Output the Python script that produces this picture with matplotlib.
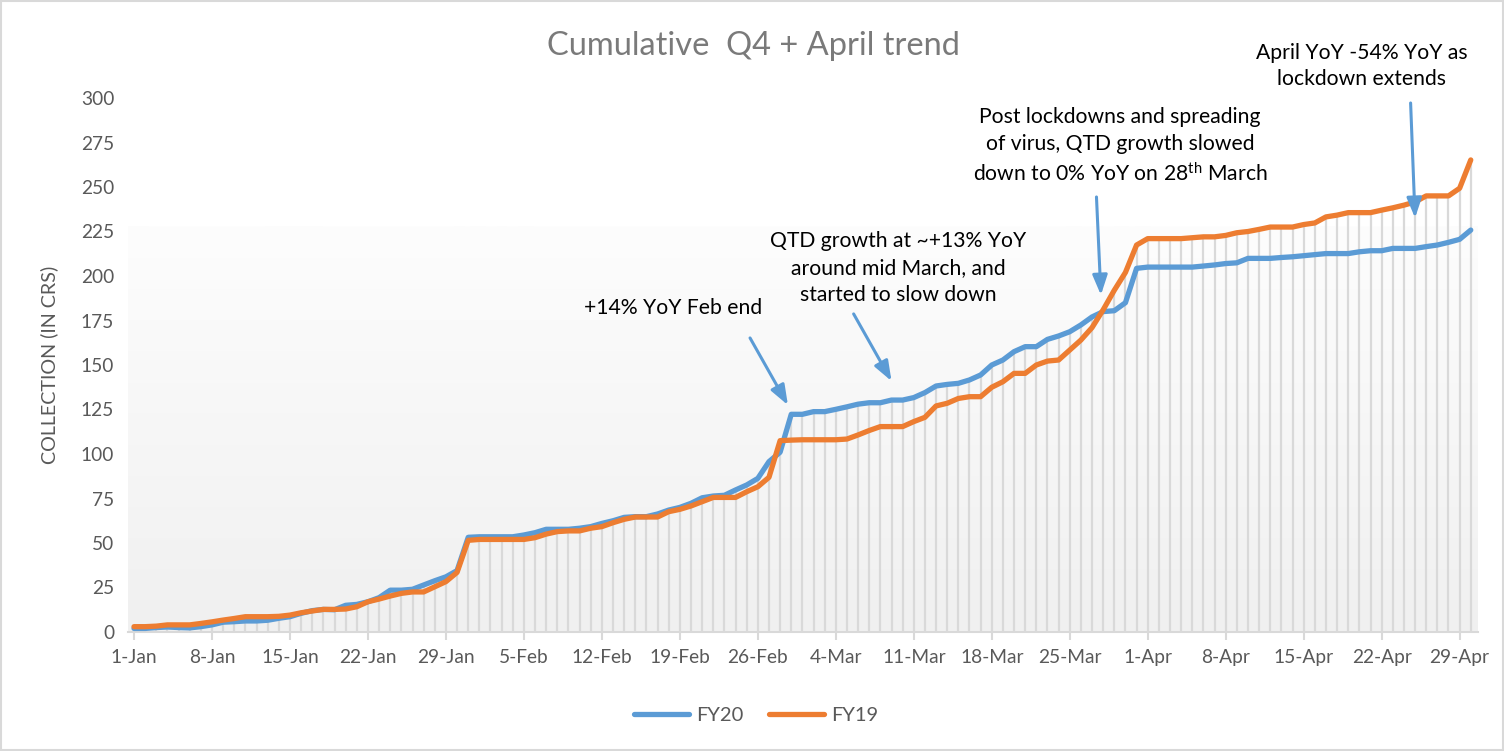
import numpy as np
import matplotlib
matplotlib.use("Agg")
import matplotlib.pyplot as plt
from matplotlib.colors import LinearSegmentedColormap
from matplotlib.patches import Rectangle

# ---------------- data ----------------
fy20 = [2, 2, 2.5, 2.8, 2.5, 2.3, 3, 4, 5.5, 5.8,
        6.2, 6.2, 6.6, 7.7, 8.6, 10.5, 12, 12.7, 12.5, 15,
        15.5, 17, 19.3, 23.5, 23.5, 24, 26.4, 28.8, 31, 34.5,
        53.2, 53.5, 53.5, 53.5, 53.5, 54.5, 55.8, 57.7, 57.7, 57.7,
        58.3, 59.2, 61, 62.5, 64.4, 64.8, 64.8, 66.3, 68.5, 70,
        72.3, 75.4, 76.4, 76.8, 79.8, 82.6, 86.3, 95.7, 101, 122.3,
        122.3, 123.8, 123.8, 125.1, 126.5, 128, 128.8, 128.8, 130.3, 130.3,
        131.7, 134.5, 138.2, 139.1, 139.7, 141.6, 144.4, 150, 152.8, 157.5,
        160.3, 160.3, 164.4, 166.3, 168.7, 172.5, 177, 180, 180.5, 185,
        204.3, 205, 205, 205, 205, 205, 205.6, 206.2, 207, 207.4,
        209.9, 209.9, 209.9, 210.4, 210.8, 211.4, 212, 212.6, 212.6, 212.6,
        213.6, 214.2, 214.2, 215.5, 215.5, 215.5, 216.5, 217.4, 218.9, 220.6,
        225.8]
fy19 = [3, 3, 3.3, 4, 4, 4, 4.8, 5.7, 6.7, 7.6,
        8.6, 8.6, 8.6, 8.8, 9.5, 10.8, 11.8, 12.7, 12.7, 12.9,
        14.2, 17, 18.5, 20.2, 21.7, 22.5, 22.5, 25.4, 28.3, 33.5,
        51.5, 52, 52, 52, 52, 52, 53, 55, 56.4, 56.8,
        56.8, 58.3, 59.2, 61.4, 63.3, 64.6, 64.6, 64.6, 67.6, 68.9,
        70.8, 73.2, 75.6, 75.6, 75.6, 78.8, 81.6, 86.9, 107.5, 107.8,
        108, 108, 108, 108, 108.4, 110.7, 113.2, 115.4, 115.4, 115.4,
        118.2, 120.6, 127, 128.5, 131.2, 132.2, 132.2, 137.5, 140.6, 145.3,
        145.3, 150, 152.2, 152.8, 158.4, 164, 171, 181, 192, 202,
        217.4, 221, 221, 221, 221, 221.5, 222, 222, 222.8, 224.3,
        225, 226.2, 227.5, 227.5, 227.5, 228.9, 229.8, 233.2, 234.2, 235.6,
        235.6, 235.6, 237, 238.3, 239.8, 241.6, 245, 245, 245, 249.3,
        265.2]
tick_labels = ["1-Jan", "8-Jan", "15-Jan", "22-Jan", "29-Jan", "5-Feb", "12-Feb",
               "19-Feb", "26-Feb", "4-Mar", "11-Mar", "18-Mar", "25-Mar", "1-Apr",
               "8-Apr", "15-Apr", "22-Apr", "29-Apr"]
y_ticks = [0, 25, 50, 75, 100, 125, 150, 175, 200, 225, 250, 275, 300]

FONT = "Lato"
plt.rcParams["font.family"] = [FONT, "DejaVu Sans"]
plt.rcParams["mathtext.fontset"] = "custom"
plt.rcParams["mathtext.rm"] = FONT
plt.rcParams["mathtext.it"] = FONT

BLUE = "#5b9bd5"
ORANGE = "#ed7d31"
GRAY_TXT = "#595959"

days = np.arange(len(fy20))
a20 = np.array(fy20)
a19 = np.array(fy19)

fig = plt.figure(figsize=(15.04, 7.51), dpi=100)
W, H = 1504, 751
ax = fig.add_axes([128 / W, (H - 632) / H, 1350 / W, 534 / H])

xlim = (-0.54, 120.65)

# gradient background in the lower part of the plot area
cmap = LinearSegmentedColormap.from_list("bg", ["#fdfdfd", "#f0f0f0"])
grad = np.linspace(1, 0, 256).reshape(-1, 1)
ax.imshow(grad, cmap=cmap, vmin=0, vmax=1, extent=[xlim[0], xlim[1], 0, 228],
          aspect="auto", zorder=0, origin="lower")
ax.set_facecolor("white")
ax.set_xlim(*xlim)
ax.set_ylim(0, 300)

# drop lines
ax.vlines(days, 0, np.maximum(a20, a19), color="#d9d9d9", linewidth=1.6, zorder=1)

ax.plot(days, a20, color=BLUE, linewidth=3.8, solid_joinstyle="round",
        solid_capstyle="round", label="FY20", zorder=3)
ax.plot(days, a19, color=ORANGE, linewidth=3.8, solid_joinstyle="round",
        solid_capstyle="round", label="FY19", zorder=4)

for s in ["top", "right", "left"]:
    ax.spines[s].set_visible(False)
ax.spines["bottom"].set_color("#d9d9d9")
ax.spines["bottom"].set_linewidth(1.5)

ax.set_xticks(np.arange(0, len(days), 7))
ax.set_xticklabels(tick_labels)
ax.set_yticks(y_ticks)
ax.tick_params(axis="x", colors="#d9d9d9", length=6, width=1.5, labelcolor=GRAY_TXT,
               labelsize=13.8, pad=6)
ax.tick_params(axis="y", length=0, labelcolor=GRAY_TXT, labelsize=13.8, pad=10)
ax.set_ylabel("COLLECTION (IN CRS)", color=GRAY_TXT, fontsize=14.2, labelpad=16)

fig.text(753 / W, 1 - 46 / H, "Cumulative  Q4 + April trend", ha="center", va="center",
         color="#7a7a7a", fontsize=23.5)

# annotations
tsize = 15.2
ls = 1.42
ax.text(48.4, 182, "+14% YoY Feb end", ha="center", va="center", fontsize=tsize,
        color="black", zorder=6)
ax.text(68.6, 204.5, "QTD growth at ~+13% YoY\naround mid March, and\nstarted to slow down",
        ha="center", va="center", fontsize=tsize, color="black", linespacing=ls, zorder=6)
ax.text(88.5, 273, "Post lockdowns and spreading\nof virus, QTD growth slowed\n"
        "down to 0% YoY on 28$^{\\mathrm{th}}$ March",
        ha="center", va="center", fontsize=tsize, color="black", linespacing=ls,
        zorder=6, clip_on=False)
ax.text(110.2, 318, "April YoY -54% YoY as\nlockdown extends", ha="center", va="center",
        fontsize=tsize, color="black", linespacing=ls, zorder=6, clip_on=False)

arrows = [((55.3, 165.2), (58.7, 127.5)),
          ((64.6, 178.7), (68.0, 141.0)),
          ((86.4, 244.4), (86.8, 189.3)),
          ((114.6, 297.2), (115.0, 232.6))]
for tail, tip in arrows:
    ax.annotate("", xy=tip, xytext=tail, annotation_clip=False,
                arrowprops=dict(arrowstyle="-|>,head_length=1.2,head_width=0.45",
                                color=BLUE, lw=2.2, shrinkA=0, shrinkB=0),
                zorder=6)

fig.legend(loc="center", bbox_to_anchor=(756 / W, 1 - 715 / H), ncol=2, frameon=False,
           fontsize=14.5, handlelength=2.7, columnspacing=1.3, handletextpad=0.35,
           labelcolor=GRAY_TXT)

fig.patches.append(Rectangle((0.0007, 0.0015), 0.9986, 0.997, transform=fig.transFigure,
                             fill=False, edgecolor="#d9d9d9", linewidth=1.5))

fig.savefig("out.png", dpi=100)
